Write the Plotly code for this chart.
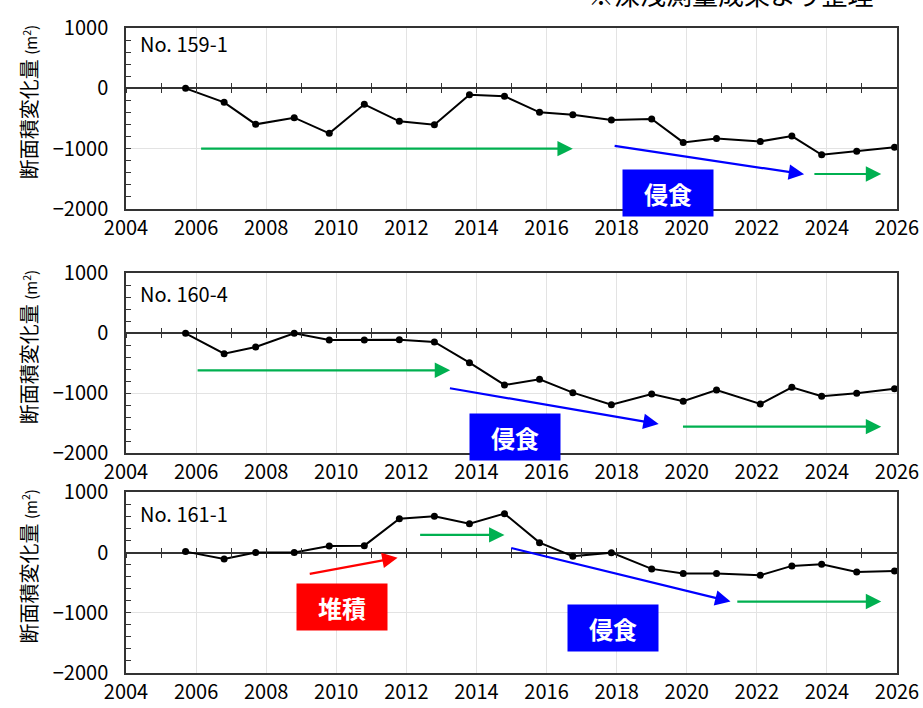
import plotly.graph_objects as go

# ---- data ----
survey_years = [2005.7, 2006.8, 2007.7, 2008.8, 2009.8, 2010.8, 2011.8, 2012.8, 2013.8, 2014.8,
                2015.8, 2016.75, 2017.85, 2019.0, 2019.9, 2020.85, 2022.1, 2023.0, 2023.85, 2024.85, 2025.93]
area_159_1 = [0, -232, -597, -487, -746, -265, -547, -603, -106, -130,
              -398, -437, -526, -509, -896, -830, -880, -791, -1101, -1045, -978]
area_160_4 = [0, -339, -228, 0, -111, -111, -106, -145, -489, -861,
              -767, -989, -1189, -1011, -1133, -944, -1178, -900, -1050, -1000, -923]
area_161_1 = [15, -106, 0, 0, 109, 114, 562, 602, 479, 645,
              164, -61, -2, -272, -350, -350, -377, -222, -194, -322, -305]
panel_names = ["No. 159-1", "No. 160-4", "No. 161-1"]
series = [area_159_1, area_160_4, area_161_1]
x_ticks = [2004, 2006, 2008, 2010, 2012, 2014, 2016, 2018, 2020, 2022, 2024, 2026]
y_ticks = [1000, 0, -1000, -2000]

FONT = "Noto Sans CJK JP"
GREEN = "#00b050"
BLUE = "#0000ff"
RED = "#ff0000"

domains = [(0.7194, 1.0), (0.3406, 0.6197), (0.0, 0.2802)]
label_y = [0.917, 0.889, 0.884]

fig = go.Figure()
layout = dict(
    width=923, height=708,
    margin=dict(l=126, r=26, t=28, b=35, autoexpand=False),
    paper_bgcolor="white", plot_bgcolor="white",
    showlegend=False,
    font=dict(family=FONT, color="black"),
)

annotations = []
for i, (name, vals) in enumerate(zip(panel_names, series)):
    n = i + 1
    xs = "" if n == 1 else str(n)
    fig.add_trace(go.Scatter(
        x=survey_years, y=vals, mode="lines+markers",
        line=dict(color="black", width=2),
        marker=dict(color="black", size=7),
        xaxis="x" + xs, yaxis="y" + xs,
    ))
    d0, d1 = domains[i]
    layout["xaxis" + xs] = dict(
        domain=[0, 1], anchor="y" + xs, range=[2004, 2026], automargin=False,
        tickvals=x_ticks, ticks="", showgrid=True, gridcolor="#e3e3e3", gridwidth=1,
        showline=True, linecolor="#333", linewidth=1.5, mirror=True,
        tickfont=dict(size=20, family=FONT), zeroline=False,
    )
    layout["yaxis" + xs] = dict(
        domain=[d0, d1], anchor="x" + xs, range=[-2000, 1000], automargin=False,
        tickvals=y_ticks, ticks="inside", ticklen=5, tickcolor="#333",
        minor=dict(dtick=200, ticks="inside", ticklen=5, tickcolor="#333", showgrid=False),
        showgrid=True, gridcolor="#e3e3e3",
        zeroline=True, zerolinecolor="#333", zerolinewidth=1.5,
        showline=True, linecolor="#333", linewidth=1.5, mirror=True,
        tickfont=dict(size=20, family=FONT), ticklabelstandoff=12,
    )
    # tick marks crossing the zero line
    zero_pos = d0 + (d1 - d0) * 2.0 / 3.0
    for k, side_ticks in enumerate(["outside", "inside"]):
        ax_id = 4 + i * 2 + k
        layout["xaxis%d" % ax_id] = dict(
            overlaying="x" + xs, anchor="free", position=zero_pos, side="bottom",
            range=[2004, 2026], dtick=1, tick0=2004, ticks=side_ticks, automargin=False,
            ticklen=4 if side_ticks == "outside" else 5, tickcolor="#333", tickwidth=1.3,
            showticklabels=False, showgrid=False, showline=False, zeroline=False,
        )
        fig.add_trace(go.Scatter(x=[2004, 2026], y=[None, None], mode="lines",
                                 xaxis="x%d" % ax_id, yaxis="y" + xs, hoverinfo="skip"))
    annotations.append(dict(
        text=name, xref="x%s domain" % xs, yref="y%s domain" % xs,
        x=0.015, y=label_y[i], xanchor="left", yanchor="middle", showarrow=False,
        font=dict(size=20, family=FONT, color="black"),
    ))
    # y axis title
    annotations.append(dict(
        text="断面積変化量 <span style='font-size:15px'>(m<sup>2</sup>)</span>",
        xref="paper", yref="y%s domain" % xs, x=-0.127, y=0.59,
        xanchor="center", yanchor="middle", textangle=-90, showarrow=False,
        font=dict(size=20, family=FONT, color="black"),
    ))

def arrow(xs, x0, y0, x1, y1, color):
    return dict(
        xref="x" + xs, yref="y" + xs, axref="x" + xs, ayref="y" + xs,
        x=x1, y=y1, ax=x0, ay=y0, text="", showarrow=True,
        arrowhead=2, arrowsize=1.4, arrowwidth=2.2, arrowcolor=color,
    )

def box(xs, x, y, text, color):
    return dict(
        xref="x" + xs, yref="y" + xs, x=x, y=y, text="<b>%s</b>" % text,
        showarrow=False, bgcolor=color, width=88, height=44,
        font=dict(size=24, family=FONT, color="white"),
        xanchor="center", yanchor="middle",
    )

annotations += [
    arrow("", 2006.1, -1000, 2016.75, -1000, GREEN),
    arrow("", 2017.9, -950, 2023.35, -1425, BLUE),
    arrow("", 2023.6, -1420, 2025.55, -1420, GREEN),
    box("", 2019.46, -1736, "侵食", BLUE),
    arrow("2", 2006.0, -617, 2013.25, -617, GREEN),
    arrow("2", 2013.2, -912, 2019.2, -1512, BLUE),
    arrow("2", 2019.85, -1556, 2025.55, -1556, GREEN),
    box("2", 2015.09, -1720, "侵食", BLUE),
    arrow("3", 2009.2, -360, 2011.75, -85, RED),
    arrow("3", 2012.35, 292, 2014.8, 292, GREEN),
    arrow("3", 2014.95, 81, 2021.25, -814, BLUE),
    arrow("3", 2021.4, -814, 2025.55, -814, GREEN),
    box("3", 2010.17, -897, "堆積", RED),
    box("3", 2017.9, -1250, "侵食", BLUE),
    dict(text="※深浅測量成果より整理", xref="paper", yref="paper",
         x=0.9715, y=1.0535, xanchor="right", yanchor="middle", showarrow=False,
         font=dict(size=26, family=FONT, color="black")),
]
layout["annotations"] = annotations
fig.update_layout(**layout)
fig.write_html(
    "out.html",
    config={"displayModeBar": False},
    post_script="document.body.style.margin='0';document.body.style.overflow='hidden';",
)
